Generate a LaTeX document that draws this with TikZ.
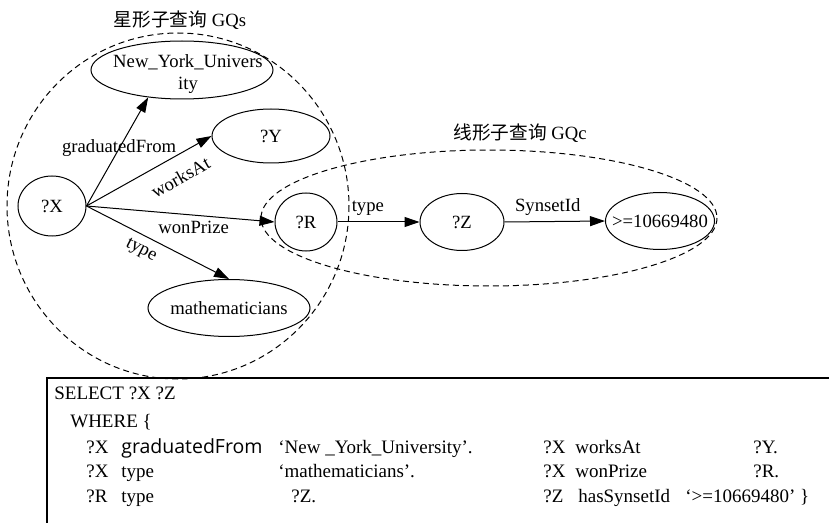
\documentclass[tikz,border=0pt]{standalone}
\usepackage{fontspec}
\setmainfont{Liberation Serif}
\newfontfamily\cjk{Noto Sans CJK SC}
\newfontfamily\ufont{Open Sans}
\usepackage{tikz}
\usetikzlibrary{arrows.meta}
\usetikzlibrary{shapes.geometric}

\tikzset{
  vtx/.style={draw,ellipse,line width=0.6pt,inner xsep=-8pt,inner ysep=-3pt},
  grp/.style={draw,dash pattern=on 3.6pt off 2.4pt,line width=0.6pt},
  edge/.style={-{Triangle[length=9pt,width=6pt]},line width=0.6pt},
  qtext/.style={anchor=base west,inner sep=0pt,font=\fontsize{11.4}{13}\selectfont}
}

\begin{document}
\begin{tikzpicture}[x=0.6pt,y=-0.6pt,font=\fontsize{11.2}{13.8}\selectfont]
\useasboundingbox (0,0) rectangle (829,523);

\node[vtx,minimum width=40.8pt,minimum height=36pt] (X) at (52,206) {?X};
\node[vtx,minimum width=109.2pt,minimum height=34.8pt] (NYU) at (182,70) {};
\node[align=center,inner sep=0pt,font=\fontsize{11.2}{13}\selectfont] (NYUtxt) at (188,74) {New\_York\_Univers\\ity};
\node[vtx,minimum width=70.8pt,minimum height=32.4pt] (Y) at (271,136) {?Y};
\node[vtx,minimum width=37.2pt,minimum height=34.8pt] (R) at (306,222) {?R};
\node[vtx,minimum width=97.2pt,minimum height=34.2pt] (math) at (229,308) {mathematicians};
\node[vtx,minimum width=50.4pt,minimum height=34.2pt] (Z) at (462,222) {?Z};
\node[vtx,minimum width=65.4pt,minimum height=34.2pt] (val) at (660,221) {>=10669480};

\draw[grp] (178,206) ellipse [x radius=171, y radius=173];
\draw[grp] (489,218) ellipse [x radius=228, y radius=68];
\node (gqsT) at (180,20) {{\cjk 星形子查询} GQs};
\node (gqcT) at (520,133) {{\cjk 线形子查询} GQc};

\draw[edge] (X.east) -- (NYU.219) node[pos=0.53] {graduatedFrom};
\draw[edge] (X.east) -- (Y.west) node[pos=0.67,sloped,below=5pt] {worksAt};
\draw[edge] (X.east) -- (math.north) node[pos=0.43,sloped,below=1pt] {type};
\draw[edge] (X.east) -- (R.west) node[pos=0.57,below] {wonPrize};
\draw[edge] (R.east) -- (Z.west) node[pos=0.37,above] {type};
\draw[edge] (Z.east) -- (val.west) node[pos=0.43,above] {SynsetId};

\draw[line width=0.9pt] (47,523) |- (829,378);
\node[qtext] (sel) at (54,399) {SELECT ?X ?Z};
\node[qtext] (whr) at (70,427) {WHERE \{};
\node[qtext] (r1s) at (86,453) {?X};
\node[qtext] (r1p) at (121,453) {\ufont\fontsize{11.7}{13}\selectfont graduatedFrom};
\node[qtext] (r1o) at (278,453) {`New \_York\_University'.};
\node[qtext] (r2s) at (86,477) {?X};
\node[qtext] (r2p) at (121,477) {type};
\node[qtext] (r2o) at (278,477) {`mathematicians'.};
\node[qtext] (r3s) at (86,502) {?R};
\node[qtext] (r3p) at (121,502) {type};
\node[qtext] (r3o) at (291,502) {?Z.};
\node[qtext] (r4s) at (543,453) {?X};
\node[qtext] (r4p) at (575,453) {worksAt};
\node[qtext] (r4o) at (753,453) {?Y.};
\node[qtext] (r5s) at (543,477) {?X};
\node[qtext] (r5p) at (575,477) {wonPrize};
\node[qtext] (r5o) at (753,477) {?R.};
\node[qtext] (r6s) at (543,502) {?Z};
\node[qtext] (r6p) at (578,502) {hasSynsetId};
\node[qtext] (r6o) at (685,502) {`>=10669480' \}};
\end{tikzpicture}
\end{document}
